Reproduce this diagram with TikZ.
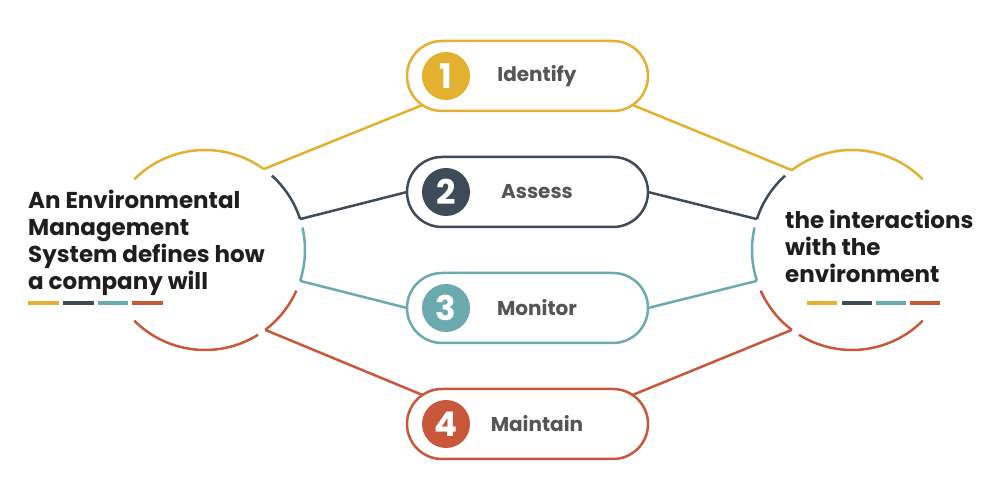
\documentclass[tikz,border=0pt]{standalone}
\usepackage{fontspec}
\setmainfont{Poppins}
\usetikzlibrary{calc}
\definecolor{cy}{HTML}{E3B12F}
\definecolor{cd}{HTML}{3E4B58}
\definecolor{ct}{HTML}{6BAAAF}
\definecolor{co}{HTML}{C9573A}
\definecolor{ctext}{HTML}{1E1E1E}
\definecolor{cgray}{HTML}{555555}
\begin{document}
\begin{tikzpicture}[x=1pt,y=1pt,
 pill/.style={draw, line width=2.5pt, minimum width=241pt, minimum height=70pt, rounded corners=35pt, inner sep=0pt, outer sep=0pt},
 num/.style={circle, inner sep=0pt, minimum size=48pt, text=white, font=\bfseries\fontsize{34}{34}\selectfont},
 lbl/.style={text=cgray, font=\bfseries\fontsize{20}{20}\selectfont},
 link/.style={line width=2.5pt},
 big/.style={circle, minimum size=200pt, inner sep=0pt, outer sep=0pt},
 bigtext/.style={text=ctext, align=left, inner sep=0pt, font=\bfseries\fontsize{23}{27}\selectfont},
 bar/.style={line width=4pt}]
\useasboundingbox (0,0) rectangle (1000,500);
\node[big] (L) at (205,250) {};
\node[big] (R) at (852,250) {};
\foreach \i/\y/\c/\t in {1/424/cy/Identify, 2/308/cd/Assess, 3/192/ct/Monitor, 4/76/co/Maintain} {
  \node[pill, draw=\c] (p\i) at (527.5,\y) {};
  \node[num, fill=\c] (n\i) at (446,\y) {\i};
  \node[lbl] (t\i) at (537,\y) {\t};
}
% left circle arcs
\draw[link, cy] (L.54) arc[start angle=54, end angle=135, radius=100];
\draw[link, cd] (L.48) arc[start angle=48, end angle=18, radius=100];
\draw[link, ct] (L.13) arc[start angle=13, end angle=-18, radius=100];
\draw[link, co] (L.336) arc[start angle=-24, end angle=-53, radius=100];
\draw[link, co] (L.302) arc[start angle=-58, end angle=-135, radius=100];
% right circle arcs
\draw[link, cy] (R.127) arc[start angle=127, end angle=45, radius=100];
\draw[link, cd] (R.132) arc[start angle=132, end angle=162, radius=100];
\draw[link, ct] (R.167) arc[start angle=167, end angle=198, radius=100];
\draw[link, co] (R.204) arc[start angle=204, end angle=233, radius=100];
\draw[link, co] (R.238) arc[start angle=238, end angle=315, radius=100];
% connectors
\draw[link, cy] (L.54) -- ($(p1.west)+(35,0)+(236:35)$);
\draw[link, cd] (L.18) -- (p2.west);
\draw[link, ct] (L.342) -- (p3.west);
\draw[link, co] (L.307) -- ($(p4.west)+(35,0)+(124:35)$);
\draw[link, cy] ($(p1.east)+(-35,0)+(-56:35)$) -- (R.127);
\draw[link, cd] (p2.east) -- (R.162);
\draw[link, ct] (p3.east) -- (R.198);
\draw[link, co] ($(p4.east)+(-35,0)+(56:35)$) -- (R.233);
% texts
\node[bigtext, anchor=base west] (lt) at (28,210) {An Environmental\\Management\\System defines how\\a company will};
\node[bigtext, anchor=base west] (rt) at (785,217) {the interactions\\with the\\environment};
% colour bars
\draw[bar, cy] (28,197) -- (59,197);
\draw[bar, cd] (63,197) -- (94,197);
\draw[bar, ct] (98,197) -- (128,197);
\draw[bar, co] (132,197) -- (163,197);
\draw[bar, cy] (807,197) -- (837,197);
\draw[bar, cd] (842,197) -- (872,197);
\draw[bar, ct] (876,197) -- (906,197);
\draw[bar, co] (910,197) -- (940,197);
\end{tikzpicture}
\end{document}
